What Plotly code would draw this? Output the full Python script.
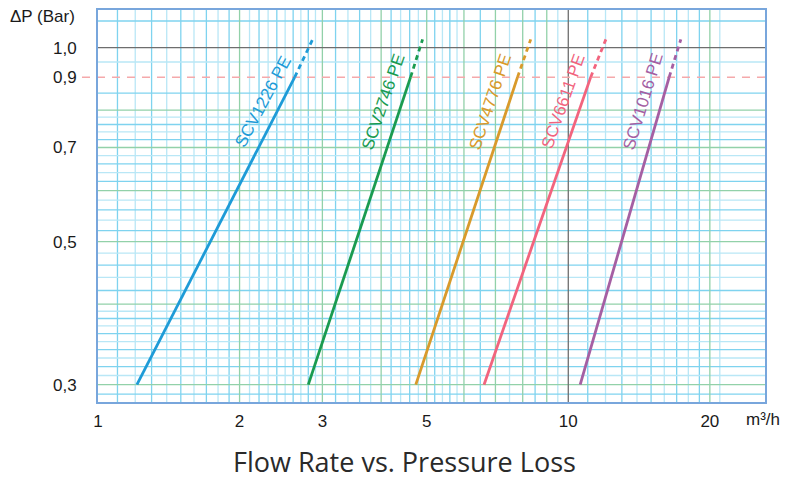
import math
import plotly.graph_objects as go

# ---- data ----
models = ["SCV1226 PE", "SCV2746 PE", "SCV4776 PE", "SCV6611 PE", "SCV1016 PE"]
colors = ["#1e9bd7", "#1a9b50", "#d99a2b", "#f2647e", "#a55fa3"]
flow_at_03 = [1.21, 2.80, 4.74, 6.62, 10.6]      # m3/h at dP = 0.3 bar
flow_at_09 = [2.62, 4.62, 7.80, 11.16, 16.39]    # m3/h at dP = 0.9 bar
flow_at_end = [2.86, 4.90, 8.32, 12.02, 17.35]   # m3/h at end of dotted part
dp_low, dp_mid, dp_end = 0.3, 0.9, 1.03

x_ticks = [1, 2, 3, 5, 10, 20]
x_ticktext = ["1", "2", "3", "5", "10", "20"]
y_ticks = [0.3, 0.5, 0.7, 0.9, 1.0]
y_ticktext = ["0,3", "0,5", "0,7", "0,9", "1,0"]

# graph-paper grid
x_minor = ([round(1 + 0.1 * i, 2) for i in range(1, 10)] +
           [round(2 + 0.1 * i, 2) for i in range(1, 10)] +
           [3.2, 3.4, 3.6, 3.8] +
           [4.2, 4.4, 4.6, 4.8, 5.2, 5.4, 5.6, 5.8, 6.5, 7.5, 8.5, 9.5] +
           list(range(11, 20)) + [21])
x_major = [2, 3, 4, 5, 6, 7, 8, 9, 20]
x_dark = [10]
y_minor = ([0.29] + [round(0.3 + 0.01 * i, 2) for i in range(1, 10)] +
           [0.42, 0.44, 0.46, 0.48, 0.52, 0.54, 0.56, 0.58,
            0.62, 0.64, 0.66, 0.68, 0.72, 0.74, 0.76, 0.78,
            0.85, 0.95, 1.1])
y_major = [0.3, 0.4, 0.5, 0.6, 0.7, 0.8]
y_dark = [1.0]

X_RANGE = [1.0, 26.2]
Y_RANGE = [0.282, 1.144]

fig = go.Figure()

shapes = []
cy_dark, cy_light = "#7fd3ef", "#b9e7f6"
for i, v in enumerate(x_minor):
    shapes.append(dict(type="line", xref="x", yref="paper", x0=v, x1=v, y0=0, y1=1,
                       line=dict(color=cy_dark if i % 2 == 0 else cy_light, width=1.3), layer="below"))
for i, v in enumerate(y_minor):
    shapes.append(dict(type="line", xref="paper", yref="y", x0=0, x1=1, y0=v, y1=v,
                       line=dict(color=cy_dark if i % 2 == 0 else cy_light, width=1.3), layer="below"))
for v in x_major:
    shapes.append(dict(type="line", xref="x", yref="paper", x0=v, x1=v, y0=0, y1=1,
                       line=dict(color="#92d1a9", width=1.3), layer="below"))
for v in y_major:
    shapes.append(dict(type="line", xref="paper", yref="y", x0=0, x1=1, y0=v, y1=v,
                       line=dict(color="#92d1a9", width=1.3), layer="below"))
for v in x_dark:
    shapes.append(dict(type="line", xref="x", yref="paper", x0=v, x1=v, y0=0, y1=1,
                       line=dict(color="#6e6e6e", width=1.3), layer="below"))
for v in y_dark:
    shapes.append(dict(type="line", xref="paper", yref="y", x0=0, x1=1, y0=v, y1=v,
                       line=dict(color="#6e6e6e", width=1.3), layer="below"))
# pink dashed reference at 0.9
shapes.append(dict(type="line", xref="paper", yref="y", x0=-0.024, x1=1, y0=dp_mid, y1=dp_mid,
                   line=dict(color="#f5a9ab", width=1.5, dash="8px,7px"), layer="below"))

annotations = []
angles = [-62, -71, -71.5, -70.5, -73]
for name, col, a, b, c, ang in zip(models, colors, flow_at_03, flow_at_09, flow_at_end, angles):
    fig.add_trace(go.Scatter(x=[a, b], y=[dp_low, dp_mid], mode="lines",
                             line=dict(color=col, width=2.8), showlegend=False, name=name))
    fig.add_trace(go.Scatter(x=[b, c], y=[dp_mid, dp_end], mode="lines",
                             line=dict(color=col, width=2.8, dash="5px,4px"), showlegend=False,
                             name=name))
    yl = 0.825
    t = (math.log10(yl) - math.log10(dp_low)) / (math.log10(dp_mid) - math.log10(dp_low))
    lx = math.log10(a) + t * (math.log10(b) - math.log10(a))
    annotations.append(dict(x=lx, y=math.log10(yl), xref="x", yref="y", text=name,
                            showarrow=False, textangle=ang, xshift=-19,
                            font=dict(family="Liberation Sans, Arial", size=17, color=col)))

annotations += [
    dict(x=-90 / 666, y=1 - 7 / 394, xref="paper", yref="paper", text="ΔP (Bar)",
         showarrow=False, xanchor="left", yanchor="middle",
         font=dict(family="Liberation Sans, Arial", size=17, color="#1a1a1a")),
    dict(x=0.997, y=-18 / 394, xref="paper", yref="paper", text="m³/h",
         showarrow=False, xanchor="center", yanchor="middle",
         font=dict(family="Liberation Sans, Arial", size=17, color="#1a1a1a")),
    dict(x=0.46, y=-60 / 394, xref="paper", yref="paper", text="Flow Rate vs. Pressure Loss",
         showarrow=False, xanchor="center", yanchor="middle",
         font=dict(family="Open Sans", size=27, color="#2a2a2a")),
]

fig.update_layout(
    width=786, height=480,
    margin=dict(l=98, r=21, t=8, b=78),
    paper_bgcolor="white", plot_bgcolor="white",
    shapes=shapes,
    annotations=annotations,
    font=dict(family="Liberation Sans, Arial", size=17, color="#1a1a1a"),
    xaxis=dict(type="log", range=[math.log10(X_RANGE[0]), math.log10(X_RANGE[1])],
               tickvals=x_ticks, ticktext=x_ticktext, showgrid=False, zeroline=False,
               showline=True, mirror=True, linecolor="#78a6dc", linewidth=2,
               ticks="", ticklabelstandoff=3),
    yaxis=dict(type="log", range=[math.log10(Y_RANGE[0]), math.log10(Y_RANGE[1])],
               tickvals=y_ticks, ticktext=y_ticktext, showgrid=False, zeroline=False,
               showline=True, mirror=True, linecolor="#78a6dc", linewidth=2,
               ticks="", ticklabelstandoff=16),
)
fig.write_html("out.html", config={"displayModeBar": False},
               post_script="document.body.style.margin='0';")
